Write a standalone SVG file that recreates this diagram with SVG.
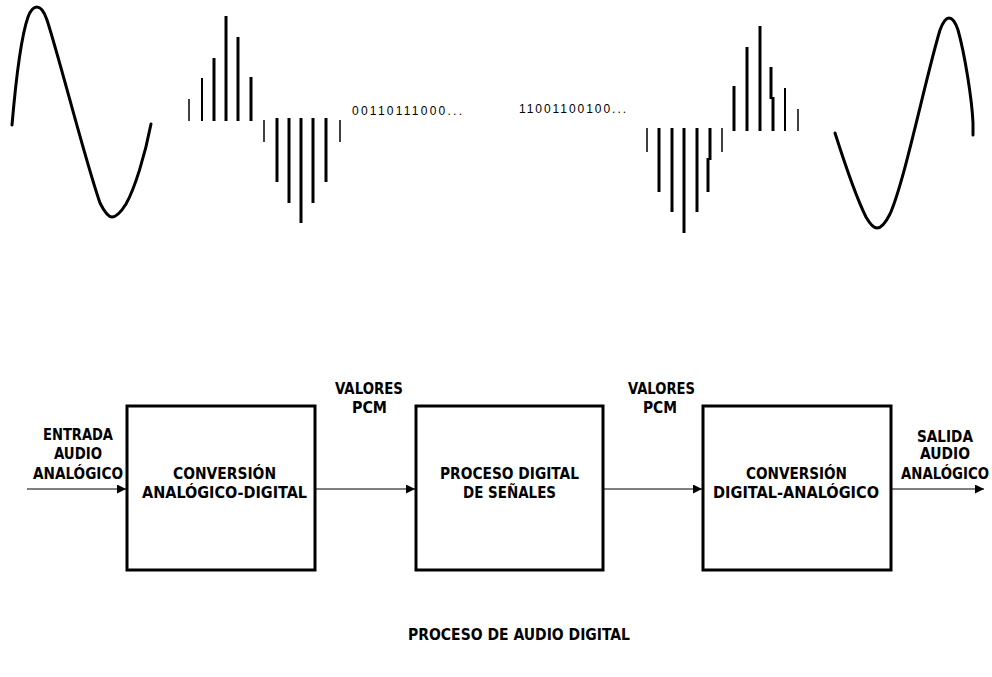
<svg xmlns="http://www.w3.org/2000/svg" width="992" height="677" viewBox="0 0 992 677">
<defs>
<style>
.wave{fill:none;stroke:#000;stroke-width:3;stroke-linejoin:round;stroke-linecap:round}
.bar{stroke:#000;stroke-width:3}
.thin{stroke:#000;stroke-width:1.5}
.bin{font-family:"Liberation Sans",Arial,sans-serif;font-size:12px;fill:#000}
.lbl{font-family:"DejaVu Sans Condensed","DejaVu Sans","Liberation Sans",sans-serif;font-weight:bold;font-size:15px;fill:#000}
.box{fill:#fff;stroke:#000;stroke-width:3}
.con{stroke:#000;stroke-width:1.2;fill:none}
</style>
<marker id="ah" viewBox="0 0 10 10" refX="10" refY="5" markerWidth="10" markerHeight="9" markerUnits="userSpaceOnUse" orient="auto">
<path d="M0,0 L10,5 L0,10 Z" fill="#000"/>
</marker>
</defs>
<rect width="992" height="677" fill="#fff"/>

<g id="signal-in">
<path class="wave" d="M12,125 C15,90 20,40 28,17 C31,9 34,7 37,7 C40,7 44,11 47,20 C60,60 85,160 100,203 C105,213 109,217 112,217 C116,217 121,212 126,204 C135,188 145,155 151,124"/>
</g>
<g id="samples-in">
<line class="thin" x1="189" y1="99" x2="189" y2="121"/>
<line class="thin" x1="202" y1="78" x2="202" y2="121" style="stroke-width:2"/>
<line class="bar" x1="214" y1="58" x2="214" y2="121"/>
<line class="bar" x1="226" y1="16" x2="226" y2="121"/>
<line class="bar" x1="238" y1="37" x2="238" y2="121"/>
<line class="bar" x1="251" y1="77" x2="251" y2="121"/>
<line class="thin" x1="264" y1="120" x2="264" y2="142"/>
<line class="bar" x1="277" y1="118" x2="277" y2="182"/>
<line class="bar" x1="289" y1="118" x2="289" y2="203"/>
<line class="bar" x1="301" y1="118" x2="301" y2="223"/>
<line class="bar" x1="313" y1="118" x2="313" y2="203"/>
<line class="bar" x1="326" y1="118" x2="326" y2="182"/>
<line class="thin" x1="340" y1="120" x2="340" y2="142"/>
</g>
<g id="bits">
<text class="bin" x="352" y="115" textLength="110" lengthAdjust="spacing">00110111000...</text>
<text class="bin" x="519" y="113" textLength="107" lengthAdjust="spacing">11001100100...</text>
</g>
<g id="samples-out">
<line class="thin" x1="647" y1="128" x2="647" y2="152"/>
<line class="bar" x1="659" y1="128" x2="659" y2="192"/>
<line class="bar" x1="672" y1="128" x2="672" y2="212"/>
<line class="bar" x1="684" y1="128" x2="684" y2="233"/>
<line class="bar" x1="697" y1="128" x2="697" y2="212"/>
<line class="bar" x1="710" y1="128" x2="710" y2="160"/>
<line class="bar" x1="708" y1="158" x2="708" y2="192"/>
<line class="thin" x1="722" y1="128" x2="722" y2="152"/>
<line class="bar" x1="734" y1="86" x2="734" y2="131"/>
<line class="bar" x1="747" y1="47" x2="747" y2="131"/>
<line class="bar" x1="760" y1="26" x2="760" y2="131"/>
<line class="bar" x1="771" y1="67" x2="771" y2="99"/>
<line class="bar" x1="773" y1="97" x2="773" y2="131"/>
<line class="thin" x1="785" y1="88" x2="785" y2="131" style="stroke-width:2"/>
<line class="thin" x1="798" y1="109" x2="798" y2="131"/>
</g>
<g id="signal-out">
<path class="wave" d="M835,133 C842,155 855,195 866,217 C870,224 874,228 877,228 C881,228 885,224 890,214 C905,180 925,80 940,30 C943,22 946,18 949,18 C952,18 955,21 958,30 C965,55 972,100 973,123 L973,135"/>
</g>

<g id="connectors">
<line class="con" x1="27" y1="489" x2="126" y2="489" marker-end="url(#ah)"/>
<line class="con" x1="316" y1="489" x2="415" y2="489" marker-end="url(#ah)"/>
<line class="con" x1="604" y1="489" x2="702" y2="489" marker-end="url(#ah)"/>
<line class="con" x1="892" y1="489" x2="984" y2="489" marker-end="url(#ah)"/>
</g>

<g id="adc">
<rect class="box" x="127" y="406" width="188" height="164"/>
<text class="lbl" x="173" y="479" textLength="103" lengthAdjust="spacingAndGlyphs">CONVERSIÓN</text>
<text class="lbl" x="142" y="498" textLength="165" lengthAdjust="spacingAndGlyphs">ANALÓGICO-DIGITAL</text>
</g>
<g id="dsp">
<rect class="box" x="416" y="406" width="187" height="164"/>
<text class="lbl" x="440" y="479" textLength="139" lengthAdjust="spacingAndGlyphs">PROCESO DIGITAL</text>
<text class="lbl" x="463" y="498" textLength="93" lengthAdjust="spacingAndGlyphs">DE SEÑALES</text>
</g>
<g id="dac">
<rect class="box" x="703" y="406" width="188" height="164"/>
<text class="lbl" x="746" y="479" textLength="101" lengthAdjust="spacingAndGlyphs">CONVERSIÓN</text>
<text class="lbl" x="713" y="498" textLength="166" lengthAdjust="spacingAndGlyphs">DIGITAL-ANALÓGICO</text>
</g>

<g id="label-in">
<text class="lbl" x="43" y="440" textLength="70" lengthAdjust="spacingAndGlyphs">ENTRADA</text>
<text class="lbl" x="54" y="459" textLength="48" lengthAdjust="spacingAndGlyphs">AUDIO</text>
<text class="lbl" x="33" y="479" textLength="90" lengthAdjust="spacingAndGlyphs">ANALÓGICO</text>
</g>
<g id="label-pcm1">
<text class="lbl" x="335" y="394" textLength="68" lengthAdjust="spacingAndGlyphs">VALORES</text>
<text class="lbl" x="352" y="413" textLength="35" lengthAdjust="spacingAndGlyphs">PCM</text>
</g>
<g id="label-pcm2">
<text class="lbl" x="628" y="394" textLength="67" lengthAdjust="spacingAndGlyphs">VALORES</text>
<text class="lbl" x="643" y="413" textLength="34" lengthAdjust="spacingAndGlyphs">PCM</text>
</g>
<g id="label-out">
<text class="lbl" x="917" y="442" textLength="56" lengthAdjust="spacingAndGlyphs">SALIDA</text>
<text class="lbl" x="920" y="459" textLength="50" lengthAdjust="spacingAndGlyphs">AUDIO</text>
<text class="lbl" x="901" y="479" textLength="88" lengthAdjust="spacingAndGlyphs">ANALÓGICO</text>
</g>
<g id="title">
<text class="lbl" x="408" y="640" textLength="222" lengthAdjust="spacingAndGlyphs">PROCESO DE AUDIO DIGITAL</text>
</g>
</svg>
